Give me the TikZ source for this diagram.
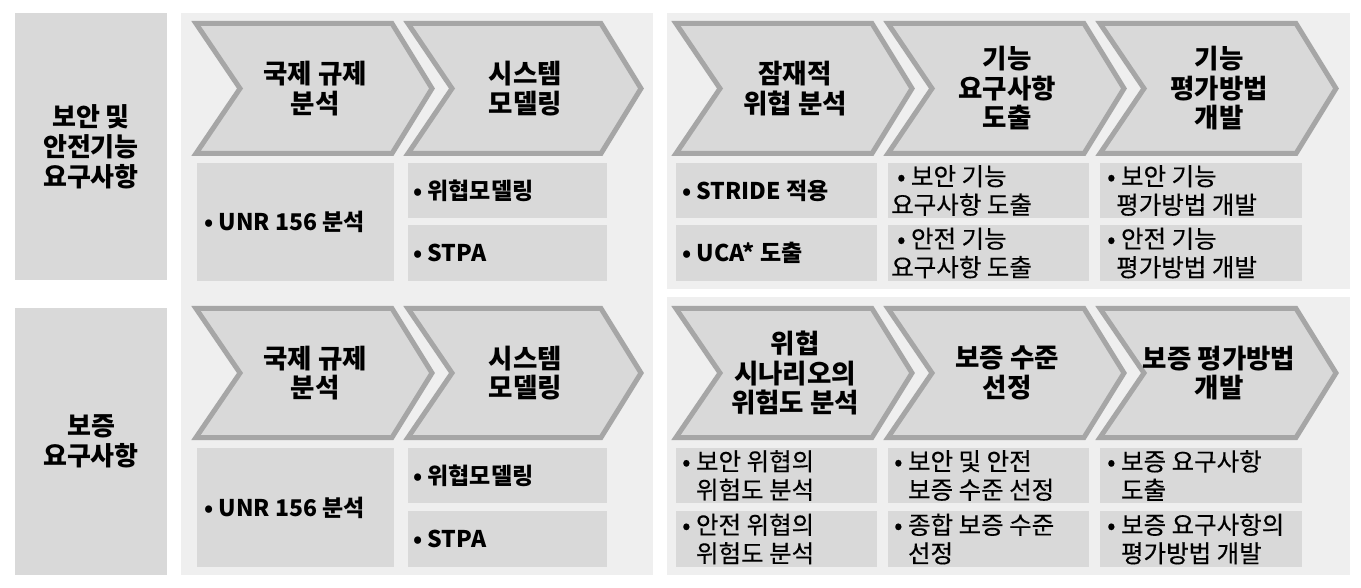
\documentclass[tikz,border=0pt]{standalone}
\usepackage{fontspec}
\setmainfont{Noto Sans CJK KR}
\newfontfamily\kmed[FakeBold=0.35]{Noto Sans CJK KR}
\definecolor{pfill}{HTML}{EFEFEF}
\definecolor{bfill}{HTML}{D9D9D9}
\definecolor{cline}{HTML}{A6A6A6}
\newcommand\chevpath[6]{%
  \pgfmathsetmacro\cmid{(#4+#5)/2}%
  \draw[chev] ({#2+3},{#4+2.5}) -- ({#3-3},{#4+2.5}) -- ({#3+42-5},\cmid) -- ({#3-3},{#5-2.5}) -- ({#2+3},{#5-2.5}) -- ({#2+42+5},\cmid) -- cycle;
  \node[title] (#1) at ({(#2+#3+42)/2},\cmid) {#6};%
}
\begin{document}
\begin{tikzpicture}[x=1pt,y=-1pt,
  chev/.style={fill=bfill, draw=cline, line width=5pt, line join=miter},
  panel/.style={fill=pfill, draw=none, inner sep=0pt, outer sep=0pt},
  gbox/.style={fill=bfill, draw=none, inner sep=0pt, outer sep=0pt},
  title/.style={font=\bfseries\fontsize{26.5}{29.5}\selectfont, align=center, text=black, inner sep=0pt},
  lab/.style={font=\bfseries\fontsize{26}{30}\selectfont, align=center, text=black, inner sep=0pt},
  bb/.style={anchor=west, font=\bfseries\fontsize{23}{28}\selectfont, align=left, text=black, inner sep=0pt},
  br/.style={anchor=west, font=\kmed\fontsize{24.5}{28.5}\selectfont, align=left, text=black, inner sep=0pt}
]
\useasboundingbox (0,0) rectangle (1361,588);
\fill[white] (0,0) rectangle (1361,588);
% panels
\node[panel, minimum width=472, minimum height=562] (pL) at (417,294) {};
\node[panel, minimum width=683, minimum height=276] (pR1) at (1008.5,151) {};
\node[panel, minimum width=683, minimum height=278] (pR2) at (1008.5,436) {};
% label boxes
\node[gbox, minimum width=152, minimum height=267] (l1box) at (91,146.5) {};
\node[lab] (l1) at (l1box) {보안 및\\안전기능\\요구사항};
\node[gbox, minimum width=152, minimum height=267] (l2box) at (91,441.5) {};
\node[lab] (l2) at (l2box) {보증\\요구사항};
% top chevrons
\chevpath{a1}{193}{395}{21}{156}{국제 규제\\분석}
\chevpath{a2}{405}{604}{21}{156}{시스템\\모델링}
\chevpath{a3}{673}{875}{21}{156}{잠재적\\위협 분석}
\chevpath{a4}{885}{1087}{21}{156}{기능\\요구사항\\도출}
\chevpath{a5}{1097}{1299}{21}{156}{기능\\평가방법\\개발}
% bottom chevrons
\chevpath{b1}{193}{395}{306}{440}{국제 규제\\분석}
\chevpath{b2}{405}{604}{306}{440}{시스템\\모델링}
\chevpath{b3}{673}{875}{306}{440}{위협\\시나리오의\\위험도 분석}
\chevpath{b4}{885}{1087}{306}{440}{보증 수준\\선정}
\chevpath{b5}{1097}{1299}{306}{440}{보증 평가방법\\개발}
% top boxes
\node[gbox, minimum width=197, minimum height=118] (tu) at (295.5,222) {};
\node[bb] at (204,222) {• UNR 156 분석};
\node[gbox, minimum width=199, minimum height=55] (tm) at (507.5,190.5) {};
\node[bb] at (413,190.5) {• 위협모델링};
\node[gbox, minimum width=199, minimum height=56] (ts) at (507.5,253) {};
\node[bb] at (413,253) {• STPA};
\node[gbox, minimum width=201, minimum height=55] (t31) at (776.5,190.5) {};
\node[bb] at (682,190.5) {• STRIDE 적용};
\node[gbox, minimum width=201, minimum height=56] (t32) at (776.5,253) {};
\node[bb] at (682,253) {• UCA* 도출};
\node[gbox, minimum width=201, minimum height=55] (t41) at (988.5,190.5) {};
\node[br] at (891,190.5) {\hspace*{6pt}• 보안 기능\\요구사항 도출};
\node[gbox, minimum width=201, minimum height=56] (t42) at (988.5,253) {};
\node[br] at (891,253) {\hspace*{6pt}• 안전 기능\\요구사항 도출};
\node[gbox, minimum width=202, minimum height=55] (t51) at (1201,190.5) {};
\node[br] at (1107,190.5) {• 보안 기능\\\hspace*{9pt}평가방법 개발};
\node[gbox, minimum width=202, minimum height=56] (t52) at (1201,253) {};
\node[br] at (1107,253) {• 안전 기능\\\hspace*{9pt}평가방법 개발};
% bottom boxes
\node[gbox, minimum width=197, minimum height=119] (bu) at (295.5,507.5) {};
\node[bb] at (204,507.5) {• UNR 156 분석};
\node[gbox, minimum width=199, minimum height=55] (bm) at (507.5,475.5) {};
\node[bb] at (413,475.5) {• 위협모델링};
\node[gbox, minimum width=199, minimum height=56] (bs) at (507.5,539) {};
\node[bb] at (413,539) {• STPA};
\node[gbox, minimum width=201, minimum height=55] (b31) at (776.5,475.5) {};
\node[br] at (682,475.5) {• 보안 위협의\\\hphantom{• }위험도 분석};
\node[gbox, minimum width=201, minimum height=56] (b32) at (776.5,539) {};
\node[br] at (682,539) {• 안전 위협의\\\hphantom{• }위험도 분석};
\node[gbox, minimum width=201, minimum height=55] (b41) at (988.5,475.5) {};
\node[br] at (894,475.5) {• 보안 및 안전\\\hphantom{• }보증 수준 선정};
\node[gbox, minimum width=201, minimum height=56] (b42) at (988.5,539) {};
\node[br] at (894,539) {• 종합 보증 수준\\\hphantom{• }선정};
\node[gbox, minimum width=202, minimum height=55] (b51) at (1201,475.5) {};
\node[br] at (1107,475.5) {• 보증 요구사항\\\hphantom{• }도출};
\node[gbox, minimum width=202, minimum height=56] (b52) at (1201,539) {};
\node[br] at (1107,539) {• 보증 요구사항의\\\hphantom{• }평가방법 개발};
\end{tikzpicture}
\end{document}
